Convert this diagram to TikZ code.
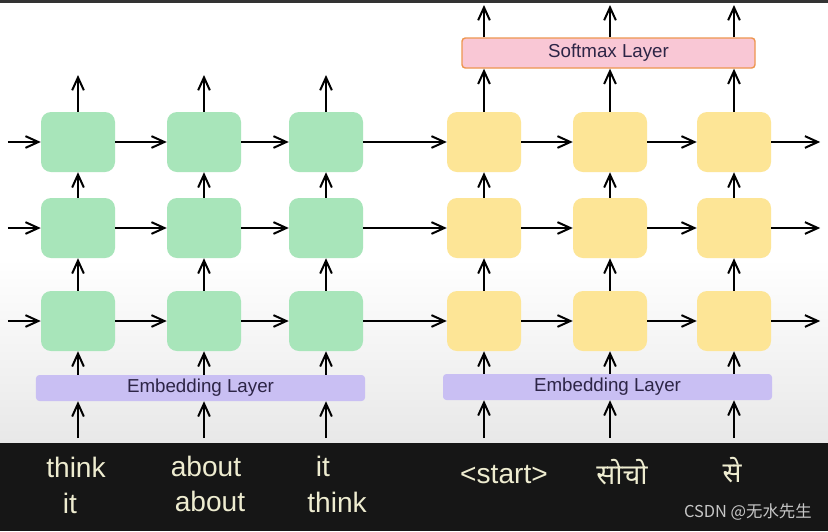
\documentclass[tikz,border=0pt]{standalone}
\usepackage{fontspec}
\setmainfont{Liberation Sans}
\newfontfamily\devafont[Script=Devanagari]{Noto Sans}
\newfontfamily\cjkfont{Noto Sans CJK SC}
\usepackage{tikz}
\usetikzlibrary{arrows.meta,positioning,calc}
\definecolor{cellgreen}{RGB}{168,229,186}
\definecolor{cellyellow}{RGB}{253,229,150}
\definecolor{embpurple}{RGB}{201,191,243}
\definecolor{smpink}{RGB}{249,199,213}
\definecolor{smorange}{RGB}{238,150,80}
\definecolor{chalk}{RGB}{238,236,208}
\definecolor{board}{RGB}{22,22,22}
\definecolor{floor}{RGB}{232,232,232}
\definecolor{ink}{RGB}{45,37,70}
\tikzset{
  enccell/.style={fill=cellgreen, rounded corners=3mm, minimum width=22.2mm, minimum height=18mm, inner sep=0pt},
  deccell/.style={enccell, fill=cellyellow},
  layerbox/.style={rounded corners=1mm, minimum height=7.8mm, inner sep=0pt, font=\fontsize{16}{18}\selectfont, text=ink},
  flow/.style={line width=1.7pt, -{Straight Barb[length=11pt,width=10pt]}},
  chalktext/.style={text=chalk, inner sep=0pt, font=\fontsize{24}{26}\selectfont},
}

\begin{document}
\begin{tikzpicture}[x=0.3mm,y=-0.3mm]
\useasboundingbox (0,0) rectangle (828,531);
\fill[white] (0,0) rectangle (828,260);
\shade[top color=white, bottom color=floor] (0,259) rectangle (828,443);
\fill[black!80] (0,0) rectangle (828,2.5);
\fill[board] (0,443) rectangle (828,531);

\foreach \c/\x in {1/78,2/204,3/326}{
  \foreach \r/\y in {1/142,2/228,3/321}{
    \node[enccell] (e\r\c) at (\x,\y) {};
  }
}
\foreach \c/\x in {1/484,2/610,3/734}{
  \foreach \r/\y in {1/142,2/228,3/321}{
    \node[deccell] (d\r\c) at (\x,\y) {};
  }
}
\node[layerbox, fill=embpurple, minimum width=98.7mm] (embL) at (200.5,388) {Embedding Layer};
\node[layerbox, fill=embpurple, minimum width=98.7mm] (embR) at (607.5,387) {Embedding Layer};
\node[layerbox, fill=smpink, draw=smorange, line width=1.2pt, minimum width=87.9mm, minimum height=9mm] (soft) at (608.5,53) {Softmax Layer};

\foreach \r in {1,2,3}{
  \coordinate (in\r) at ($(e\r1.west)+(-33,0)$);
  \coordinate (out\r) at ($(d\r3.east)+(49,0)$);
  \draw[flow] (in\r) -- (e\r1.west);
  \draw[flow] (e\r1) -- (e\r2);
  \draw[flow] (e\r2) -- (e\r3);
  \draw[flow] (e\r3) -- (d\r1);
  \draw[flow] (d\r1) -- (d\r2);
  \draw[flow] (d\r2) -- (d\r3);
  \draw[flow] (d\r3) -- (out\r);
}

\foreach \c in {1,2,3}{
  \coordinate (src\c) at (e3\c.south |- 0,438);
  \coordinate (top\c) at (e1\c.north |- 0,75);
  \draw[flow] (src\c) -- (e3\c.south |- embL.south);
  \draw[flow] (e3\c.south |- embL.north) -- (e3\c.south);
  \draw[flow] (e3\c) -- (e2\c);
  \draw[flow] (e2\c) -- (e1\c);
  \draw[flow] (e1\c.north) -- (top\c);
  \coordinate (dsrc\c) at (d3\c.south |- 0,438);
  \coordinate (dtop\c) at (d1\c.north |- 0,5);
  \draw[flow] (dsrc\c) -- (d3\c.south |- embR.south);
  \draw[flow] (d3\c.south |- embR.north) -- (d3\c.south);
  \draw[flow] (d3\c) -- (d2\c);
  \draw[flow] (d2\c) -- (d1\c);
  \draw[flow] (d1\c.north) -- (d1\c.north |- soft.south);
  \draw[flow] (d1\c.north |- soft.north) -- (dtop\c);
}

\node[chalktext] (w11) at (76,467) {think};
\node[chalktext] (w12) at (206,466) {about};
\node[chalktext] (w13) at (323,466) {it};
\node[chalktext] (w21) at (70,503) {it};
\node[chalktext] (w22) at (210,501) {about};
\node[chalktext] (w23) at (337,502) {think};
\node[chalktext] (t1) at (504,475) {<start>};
\node[chalktext, font=\devafont\fontsize{24}{26}\selectfont] (t2) at (622,472) {सोचो};
\node[chalktext, font=\devafont\fontsize{24}{26}\selectfont] (t3) at (732,470) {से};
\node[text=black!22, inner sep=0pt, anchor=east, font=\cjkfont\fontsize{14}{16}\selectfont] (mark) at (812,512) {CSDN @无水先生};
\end{tikzpicture}
\end{document}
